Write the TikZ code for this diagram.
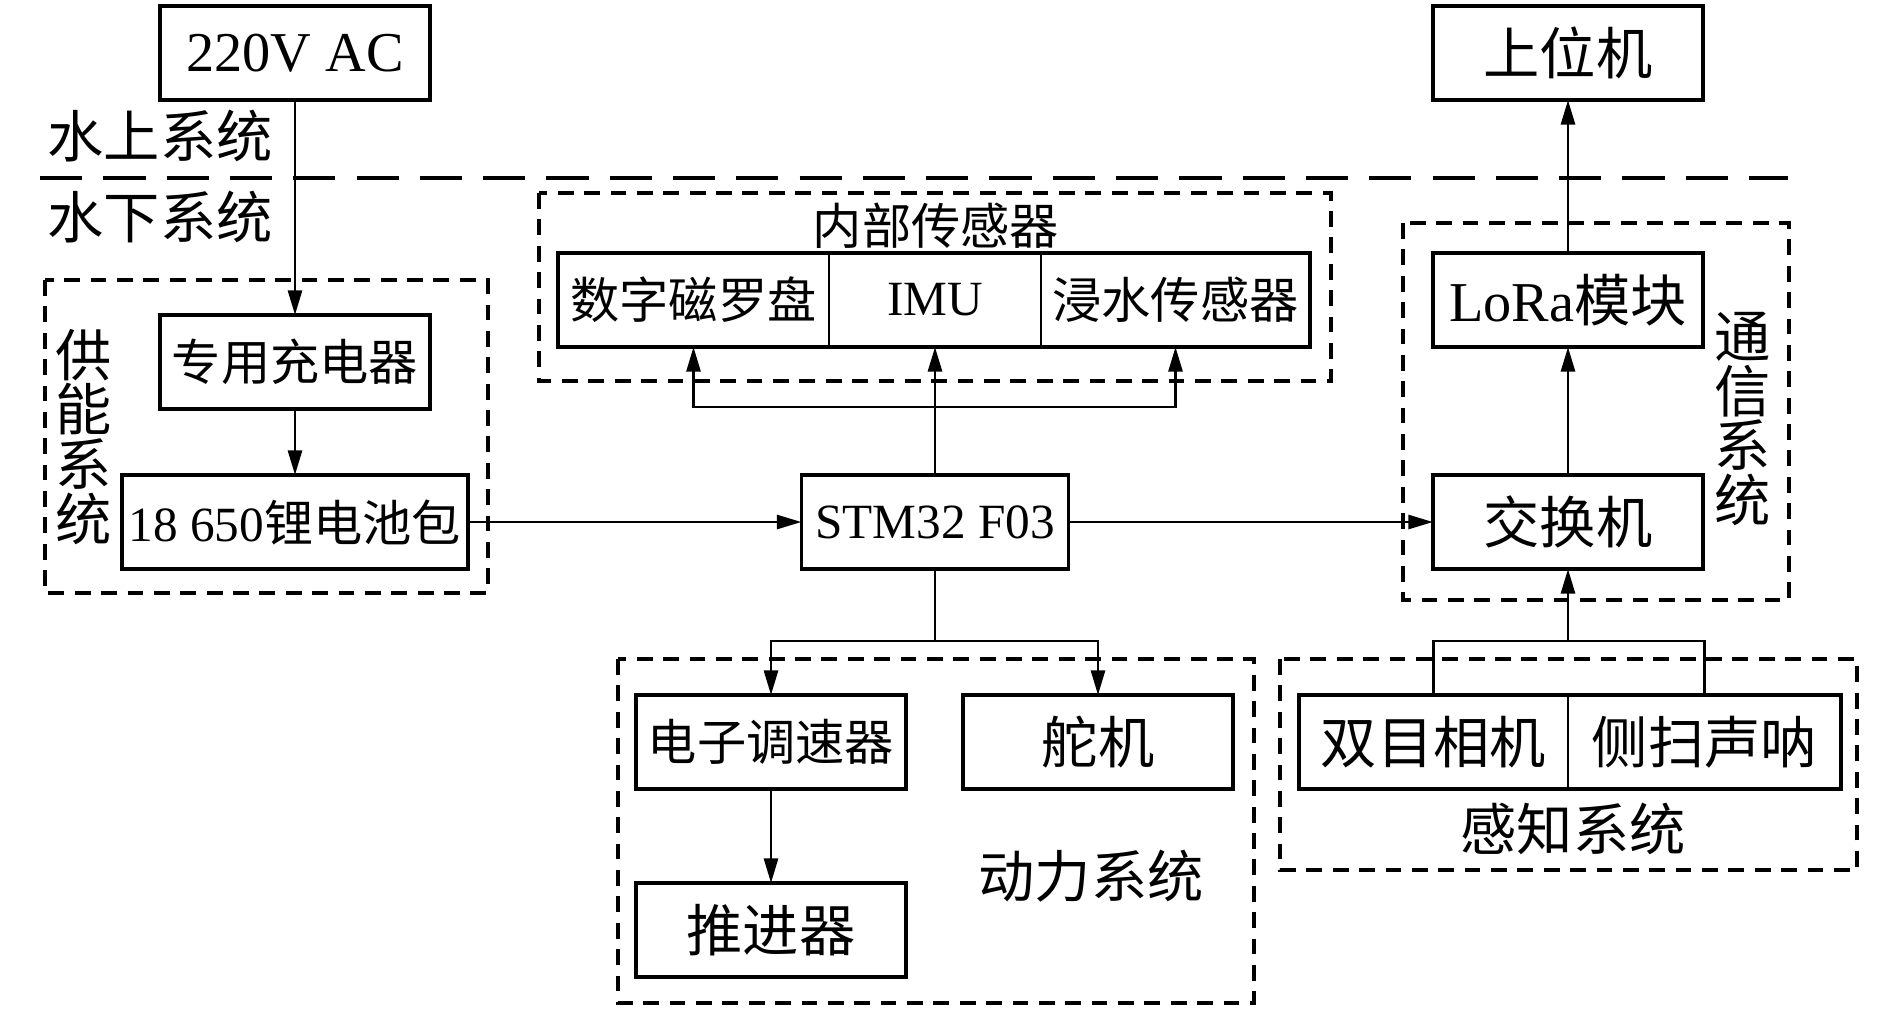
\documentclass[tikz,border=0pt]{standalone}
\usepackage{fontspec}
\setmainfont{Liberation Serif}
\newfontfamily\cjk{Noto Sans CJK SC}
\usetikzlibrary{arrows.meta}

\begin{document}
\begin{tikzpicture}[x=0.01cm,y=-0.01cm,>={Triangle[length=7pt,width=4pt]},
  box/.style={draw,line width=1pt,inner sep=0pt,outer sep=0pt,minimum height=0.94cm,minimum width=2.7cm,font=\fontsize{16}{18}\selectfont},
  cell/.style={inner sep=0pt,outer sep=0pt,minimum height=0.94cm,font=\fontsize{14}{16}\selectfont},
  grp/.style={draw,line width=0.9pt,dash pattern=on 4.5pt off 3pt},
  lbl/.style={font=\fontsize{16}{15.6}\selectfont\cjk},
  arr/.style={->,line width=0.75pt}]
  \useasboundingbox (0,0) rectangle (1890,1008);

  % above water
  \node[box] (ac) at (295,53) {220V AC};
  \node[box] (host) at (1568,53) {\cjk 上位机};
  \node[lbl] (up) at (160,136) {水上系统};
  \node[lbl] (down) at (160,217) {水下系统};
  \draw[line width=0.9pt,dash pattern=on 12pt off 6pt] (40,178) -- (1788,178);

  % power supply
  \draw[grp] (45,280) rectangle (488,593);
  \node[lbl,align=center] (pwrlbl) at (84,437) {供\\能\\系\\统};
  \node[box,font=\fontsize{14}{16}\selectfont] (chg) at (295,362) {\cjk 专用充电器};
  \node[box,minimum width=3.46cm,font=\fontsize{14}{16}\selectfont] (bat) at (295,522) {18 650{\cjk 锂电池包}};

  % controller
  \node[box,minimum width=2.67cm,font=\fontsize{14}{16}\selectfont] (mcu) at (935,522) {STM32 F03};

  % internal sensors
  \draw[grp] (539,193) rectangle (1331,381);
  \node[lbl,font=\fontsize{14}{16}\selectfont\cjk] (senlbl) at (936,226) {内部传感器};
  \node[cell,minimum width=2.71cm] (mag) at (693.5,300) {\cjk 数字磁罗盘};
  \node[cell,minimum width=2.12cm] (imu) at (935,300) {IMU};
  \node[cell,minimum width=2.69cm] (wet) at (1175.5,300) {\cjk 浸水传感器};
  \draw[line width=1pt] (mag.north west) rectangle (wet.south east);
  \draw[line width=0.7pt] (mag.north east) -- (mag.south east) (imu.north east) -- (imu.south east);

  % communication
  \draw[grp] (1403,223) rectangle (1789,600);
  \node[lbl,align=center] (comlbl) at (1743,419) {通\\信\\系\\统};
  \node[box] (lora) at (1568,300) {LoRa{\cjk 模块}};
  \node[box] (sw) at (1568,522) {\cjk 交换机};

  % propulsion
  \draw[grp] (618,659) rectangle (1254,1003);
  \node[box,font=\fontsize{14}{16}\selectfont] (esc) at (771,742) {\cjk 电子调速器};
  \node[box] (rud) at (1098,742) {\cjk 舵机};
  \node[box] (thr) at (771,930) {\cjk 推进器};
  \node[lbl] (prolbl) at (1091,876) {动力系统};

  % perception
  \draw[grp] (1280,659) rectangle (1857,870);
  \node[cell,minimum width=2.69cm,font=\fontsize{16}{18}\selectfont] (cam) at (1433.5,742) {\cjk 双目相机};
  \node[cell,minimum width=2.73cm,font=\fontsize{16}{18}\selectfont] (son) at (1704.5,742) {\cjk 侧扫声呐};
  \draw[line width=1pt] (cam.north west) rectangle (son.south east);
  \draw[line width=0.7pt] (cam.north east) -- (cam.south east);
  \node[lbl] (perlbl) at (1573,829) {感知系统};

  % connections
  \coordinate (sf) at (935,407);
  \coordinate (pf) at (935,641);
  \coordinate (sj) at (1568,641);
  \draw[arr] (ac) -- (chg);
  \draw[arr] (chg) -- (bat);
  \draw[arr] (bat) -- (mcu);
  \draw[arr] (mcu) -- (sw);
  \draw[arr] (sw) -- (lora);
  \draw[arr] (lora) -- (host);
  \draw[arr] (mcu) -- (imu);
  \draw[arr] (sf) -| (mag);
  \draw[arr] (sf) -| (wet);
  \draw[line width=0.75pt] (mcu) -- (pf);
  \draw[arr] (pf) -| (esc);
  \draw[arr] (pf) -| (rud);
  \draw[arr] (esc) -- (thr);
  \draw[line width=0.75pt] (cam) |- (sj) -| (son);
  \draw[arr] (sj) -- (sw);
\end{tikzpicture}
\end{document}
